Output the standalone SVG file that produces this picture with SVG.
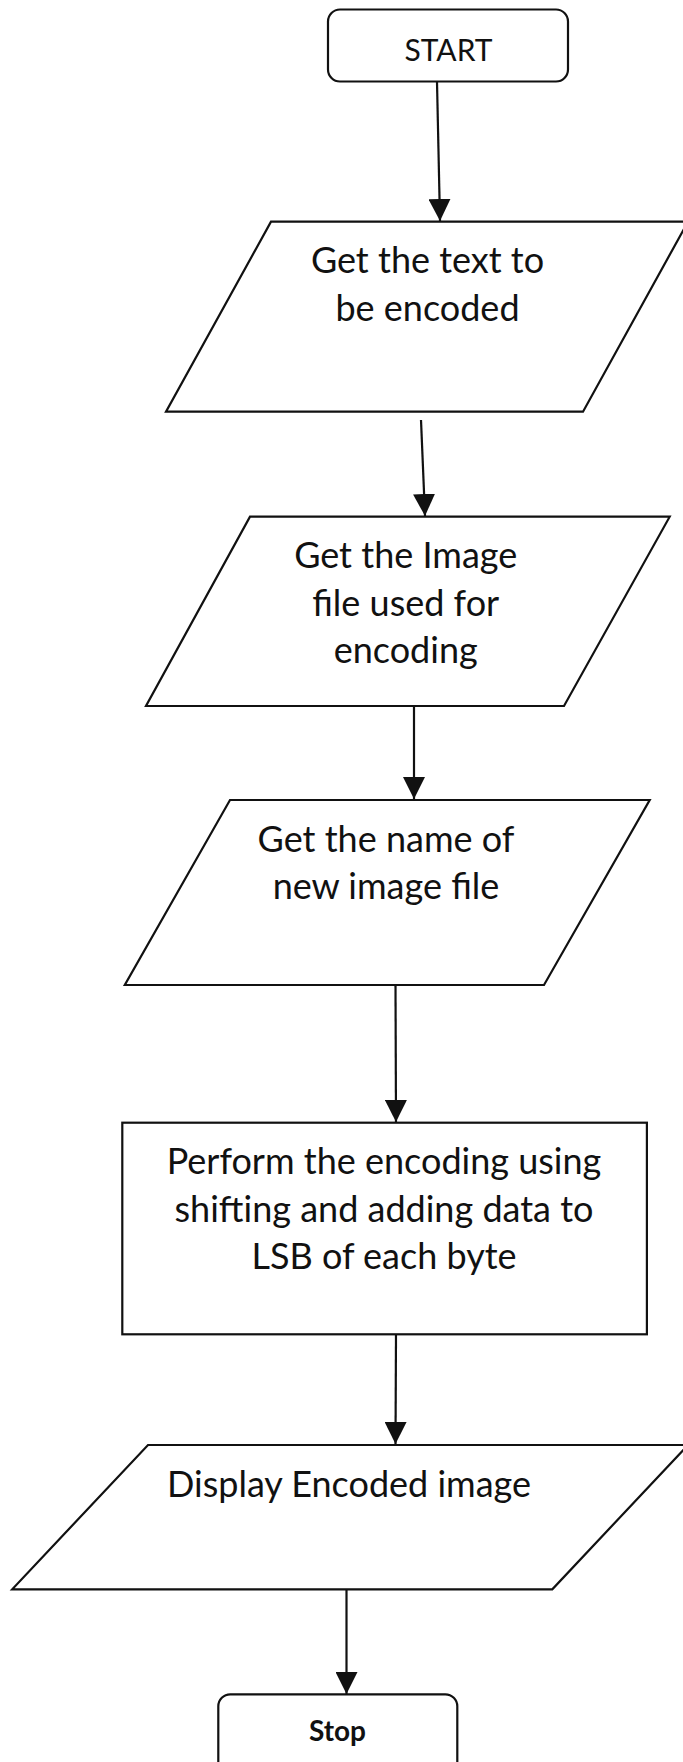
<svg xmlns="http://www.w3.org/2000/svg" width="683" height="1762" viewBox="0 0 683 1762">
  <style>
    .shape { fill: #ffffff; stroke: #111111; stroke-width: 2.2; stroke-linejoin: miter; }
    .label { font-family: "Lato", "Liberation Sans", sans-serif; font-size: 36px; fill: #111111; text-anchor: middle; }
    .term { font-family: "Lato", "Liberation Sans", sans-serif; font-size: 30px; fill: #111111; text-anchor: middle; }
    .term-bold { font-family: "Lato", "Liberation Sans", sans-serif; font-size: 28px; font-weight: bold; fill: #111111; text-anchor: middle; }
    .flow { fill: none; stroke: #111111; stroke-width: 2.2; marker-end: url(#arrow); }
  </style>
  <defs>
    <marker id="arrow" markerUnits="userSpaceOnUse" markerWidth="22" markerHeight="22" refX="22" refY="11" orient="auto">
      <path d="M0,0 L22,11 L0,22 Z" fill="#111111"/>
    </marker>
  </defs>

  <rect width="683" height="1762" fill="#ffffff"/>

  <!-- flow connectors -->
  <g id="connectors">
    <line class="flow" x1="437" y1="82" x2="440" y2="221"/>
    <line class="flow" x1="421" y1="420" x2="425" y2="516"/>
    <line class="flow" x1="414" y1="706" x2="414" y2="799"/>
    <line class="flow" x1="395.5" y1="985" x2="396" y2="1122"/>
    <line class="flow" x1="396" y1="1334" x2="395.5" y2="1444"/>
    <line class="flow" x1="346.5" y1="1589" x2="346.5" y2="1694"/>
  </g>

  <g id="start">
    <rect class="shape" x="328" y="9.5" width="240" height="72" rx="12" ry="12"/>
    <text class="term" x="448.5" y="61">START</text>
  </g>

  <g id="get-text">
    <polygon class="shape" points="271,221.7 688,221.7 583,411.7 166,411.7"/>
    <text class="label" x="427.5" y="273.3">Get the text to</text>
    <text class="label" x="427.5" y="320.7">be encoded</text>
  </g>

  <g id="get-image">
    <polygon class="shape" points="250,516.7 669.7,516.7 564,706 146,706"/>
    <text class="label" x="405.7" y="568.3">Get the Image</text>
    <text class="label" x="405.7" y="615.7">file used for</text>
    <text class="label" x="405.7" y="663.1">encoding</text>
  </g>

  <g id="get-name">
    <polygon class="shape" points="230,800 649.7,800 544,985 124.8,985"/>
    <text class="label" x="386" y="851.7">Get the name of</text>
    <text class="label" x="386" y="899.3">new image file</text>
  </g>

  <g id="encode">
    <rect class="shape" x="122.3" y="1122.7" width="524.6" height="211.6"/>
    <text class="label" x="384" y="1174">Perform the encoding using</text>
    <text class="label" x="384" y="1221.5">shifting and adding data to</text>
    <text class="label" x="384" y="1269">LSB of each byte</text>
  </g>

  <g id="display">
    <polygon class="shape" points="148,1445 688,1445 552.3,1589.3 12.2,1589.3"/>
    <text class="label" x="349" y="1497.3">Display Encoded image</text>
  </g>

  <g id="stop">
    <rect class="shape" x="218.3" y="1694.3" width="239" height="90" rx="12" ry="12"/>
    <text class="term-bold" x="337.5" y="1741">Stop</text>
  </g>
</svg>
